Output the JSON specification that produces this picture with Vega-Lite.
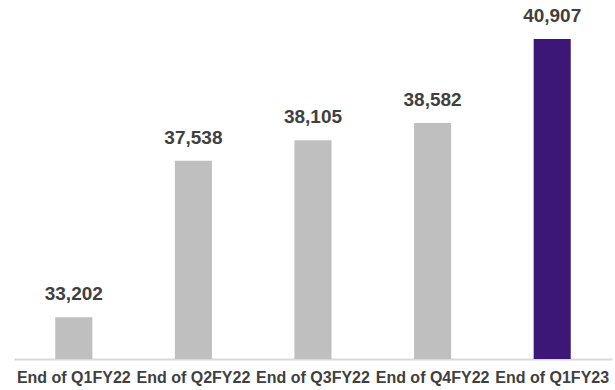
{
  "$schema": "https://vega.github.io/schema/vega-lite/v6.json",
  "width": 598,
  "height": 359,
  "autosize": "none",
  "padding": {"left": 14, "top": 0, "right": 3, "bottom": 31},
  "background": "white",
  "config": {"view": {"stroke": null}, "font": "Liberation Sans"},
  "data": {
    "values": [
      {"period": "End of Q1FY22", "value": 33202, "highlight": "no"},
      {"period": "End of Q2FY22", "value": 37538, "highlight": "no"},
      {"period": "End of Q3FY22", "value": 38105, "highlight": "no"},
      {"period": "End of Q4FY22", "value": 38582, "highlight": "no"},
      {"period": "End of Q1FY23", "value": 40907, "highlight": "yes"}
    ]
  },
  "encoding": {
    "x": {
      "field": "period",
      "type": "nominal",
      "sort": null,
      "scale": {"paddingInner": 0.69, "paddingOuter": 0.345},
      "axis": {
        "title": null,
        "labelAngle": 0,
        "labelFont": "Liberation Sans",
        "labelFontWeight": "bold",
        "labelFontSize": 16,
        "labelColor": "#404040",
        "labelPadding": 10,
        "labelOverlap": false,
        "ticks": false,
        "domainColor": "#d9d9d9",
        "domainWidth": 2
      }
    },
    "y": {
      "field": "value",
      "type": "quantitative",
      "scale": {"domain": [32047, 41987], "nice": false, "zero": false},
      "axis": null
    }
  },
  "layer": [
    {
      "mark": {"type": "bar", "clip": true},
      "encoding": {
        "color": {
          "field": "highlight",
          "type": "nominal",
          "scale": {"domain": ["no", "yes"], "range": ["#bfbfbf", "#3d1778"]},
          "legend": null
        }
      }
    },
    {
      "mark": {
        "type": "text",
        "dy": -17,
        "baseline": "alphabetic",
        "font": "Liberation Sans",
        "fontWeight": "bold",
        "fontSize": 19,
        "color": "#404040"
      },
      "encoding": {
        "text": {"field": "value", "type": "quantitative", "format": ",d"}
      }
    }
  ]
}
